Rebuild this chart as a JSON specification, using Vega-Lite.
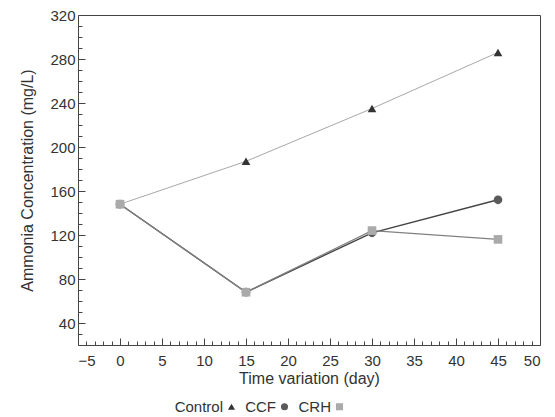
{
  "$schema": "https://vega.github.io/schema/vega-lite/v6.json",
  "width": 462,
  "height": 330,
  "padding": {"left": 19, "top": 8, "right": 10, "bottom": 5},
  "autosize": {"type": "pad"},
  "background": "white",
  "config": {
    "font": "Liberation Sans",
    "view": {"stroke": "#444", "strokeWidth": 1},
    "axis": {
      "domain": false,
      "ticks": true,
      "tickColor": "#444",
      "tickWidth": 1,
      "labelColor": "#333",
      "titleColor": "#333",
      "labelFontSize": 15,
      "titleFontSize": 16,
      "titleFontWeight": "normal",
      "grid": false,
      "labelOverlap": false
    },
    "legend": {"labelFontSize": 15, "labelColor": "#333"}
  },
  "data": {
    "values": [
      {"series": "Control", "day": 0, "conc": 148},
      {"series": "Control", "day": 15, "conc": 187},
      {"series": "Control", "day": 30, "conc": 235},
      {"series": "Control", "day": 45, "conc": 286},
      {"series": "CCF", "day": 0, "conc": 148},
      {"series": "CCF", "day": 15, "conc": 68},
      {"series": "CCF", "day": 30, "conc": 122},
      {"series": "CCF", "day": 45, "conc": 152},
      {"series": "CRH", "day": 0, "conc": 148},
      {"series": "CRH", "day": 15, "conc": 68},
      {"series": "CRH", "day": 30, "conc": 124},
      {"series": "CRH", "day": 45, "conc": 116}
    ]
  },
  "resolve": {"axis": {"x": "independent", "y": "independent"}},
  "layer": [
    {
      "transform": [{"filter": "datum.series === 'Control'"}],
      "mark": {"type": "line", "strokeWidth": 1, "color": "#a8a8a8"},
      "encoding": {
        "x": {
          "field": "day", "type": "quantitative",
          "scale": {"domain": [-5, 50], "nice": false, "zero": false},
          "axis": {
            "orient": "bottom",
            "title": "Time variation (day)",
            "values": [-5, 0, 5, 10, 15, 20, 25, 30, 35, 40, 45, 50],
            "ticks": true,
            "offset": -7,
            "tickSize": 7,
            "labelPadding": 8,
            "titlePadding": 2
          }
        },
        "y": {
          "field": "conc", "type": "quantitative",
          "scale": {"domain": [20, 320], "nice": false, "zero": false},
          "axis": {
            "orient": "left",
            "title": "Ammonia Concentration (mg/L)",
            "values": [40, 80, 120, 160, 200, 240, 280, 320],
            "ticks": true,
            "offset": -7,
            "tickSize": 7,
            "labelPadding": 3,
            "titlePadding": 14
          }
        }
      }
    },
    {
      "transform": [{"filter": "datum.series === 'CCF'"}],
      "mark": {"type": "line", "strokeWidth": 1.4, "color": "#444444"},
      "encoding": {
        "x": {"field": "day", "type": "quantitative", "axis": null},
        "y": {"field": "conc", "type": "quantitative", "axis": null}
      }
    },
    {
      "transform": [{"filter": "datum.series === 'CRH'"}],
      "mark": {"type": "line", "strokeWidth": 1.2, "color": "#808080"},
      "encoding": {
        "x": {"field": "day", "type": "quantitative", "axis": null},
        "y": {"field": "conc", "type": "quantitative", "axis": null}
      }
    },
    {
      "mark": {"type": "point", "filled": true, "opacity": 1, "size": 75},
      "encoding": {
        "x": {
          "field": "day", "type": "quantitative",
          "axis": {
            "orient": "bottom",
            "title": null,
            "labels": false,
            "ticks": true,
            "values": [-4,-3,-2,-1,1,2,3,4,6,7,8,9,11,12,13,14,16,17,18,19,21,22,23,24,26,27,28,29,31,32,33,34,36,37,38,39,41,42,43,44,46,47,48,49],
            "offset": -4,
            "tickSize": 4
          }
        },
        "y": {
          "field": "conc", "type": "quantitative",
          "axis": {
            "orient": "left",
            "title": null,
            "labels": false,
            "ticks": true,
            "values": [30,50,60,70,90,100,110,130,140,150,170,180,190,210,220,230,250,260,270,290,300,310],
            "offset": -4,
            "tickSize": 4
          }
        },
        "color": {
          "field": "series",
          "type": "nominal",
          "scale": {"domain": ["Control", "CCF", "CRH"], "range": ["#333333", "#5a5a5a", "#aaaaaa"]},
          "legend": {
            "title": null,
            "orient": "none",
            "direction": "horizontal",
            "legendX": 146,
            "legendY": 384,
            "labelAlign": "right",
            "labelOffset": -16,
            "columnPadding": 9,
            "symbolSize": 50
          }
        },
        "shape": {
          "field": "series",
          "type": "nominal",
          "scale": {"domain": ["Control", "CCF", "CRH"], "range": ["triangle-up", "circle", "square"]},
          "legend": {
            "title": null,
            "orient": "none",
            "direction": "horizontal",
            "legendX": 146,
            "legendY": 384,
            "labelAlign": "right",
            "labelOffset": -16,
            "columnPadding": 9,
            "symbolSize": 50
          }
        }
      }
    }
  ]
}
